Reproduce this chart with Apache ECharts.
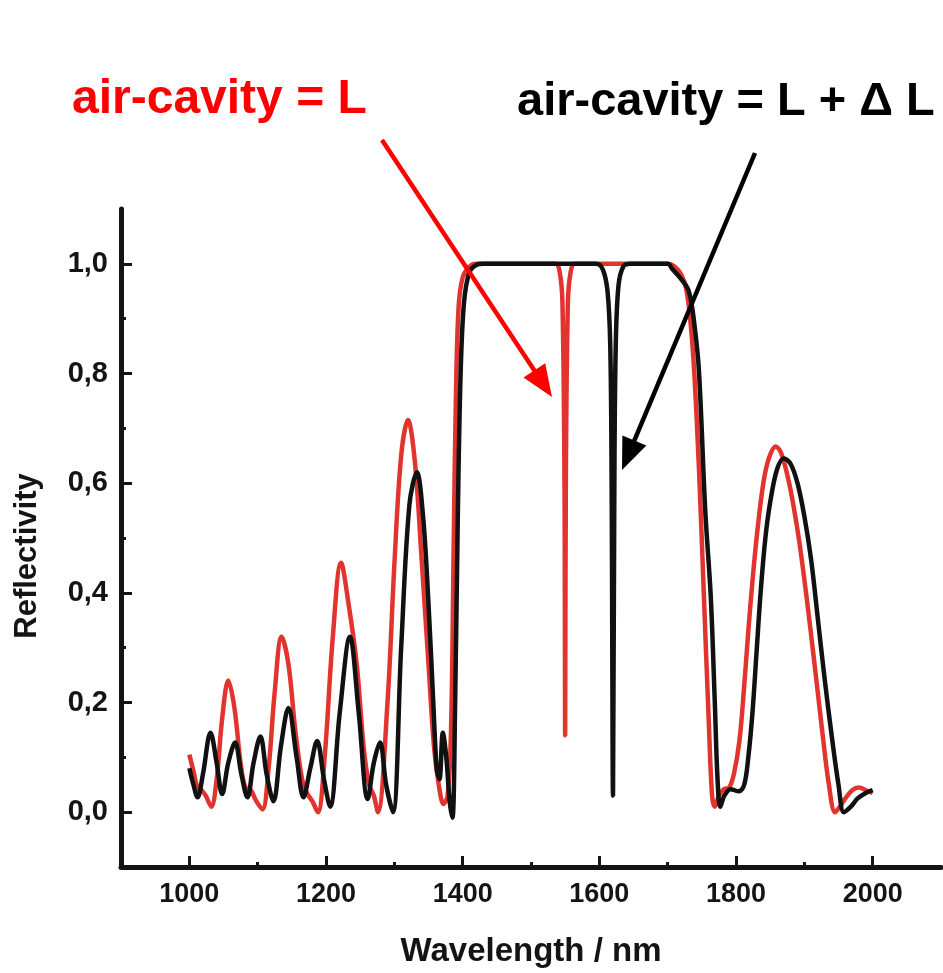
<!DOCTYPE html>
<html><head><meta charset="utf-8">
<script src="https://cdn.jsdelivr.net/npm/echarts@6/dist/echarts.min.js"></script>
<style>html,body{margin:0;padding:0;background:#fff}#c{width:943px;height:973px}</style>
</head><body><div id="c"></div>
<script>
// Reflectivity spectra (wavelength in nm)
const redX = [1000,1006,1012,1018,1024,1032,1040,1048,1057,1066,1075,1082,1090,1098,1107,1116,1125,1135,1145,1155,1165,1172,1180,1188,1198,1210,1222,1233,1245,1255,1263,1270,1276,1290,1300,1310,1320,1330,1340,1350,1358,1365,1372,1378,1383,1387,1390,1394,1400,1410,1420,1480,1536,1542,1546,1549,1550,1551,1554,1558,1564,1600,1650,1700,1710,1720,1727,1733,1739,1746,1753,1760,1765,1769,1775,1782,1790,1797,1805,1812,1818,1824,1831,1840,1848,1858,1866,1876,1884,1893,1903,1914,1926,1936,1945,1952,1960,1970,1980,1990,2000];
const redY = [0.105,0.075,0.045,0.04,0.03,0.01,0.06,0.17,0.24,0.19,0.09,0.045,0.04,0.02,0.005,0.08,0.22,0.32,0.27,0.15,0.06,0.035,0.02,0.0,0.1,0.32,0.455,0.38,0.27,0.12,0.05,0.03,0.0,0.2,0.45,0.65,0.715,0.64,0.46,0.27,0.12,0.05,0.015,0.03,0.15,0.5,0.75,0.92,0.975,0.995,1.0,1.0,1.0,0.985,0.93,0.6,0.14,0.6,0.93,0.985,1.0,1.0,1.0,1.0,0.995,0.98,0.955,0.9,0.8,0.62,0.395,0.17,0.03,0.01,0.03,0.042,0.045,0.07,0.13,0.23,0.33,0.42,0.51,0.6,0.645,0.667,0.655,0.61,0.56,0.49,0.395,0.28,0.15,0.05,0.0,0.01,0.025,0.04,0.045,0.04,0.035];
const blackX = [1000,1006,1012,1020,1031,1040,1048,1057,1067,1076,1085,1094,1104,1113,1123,1134,1145,1157,1167,1177,1187,1197,1206,1220,1235,1248,1261,1270,1279,1288,1298,1310,1322,1333,1342,1350,1357,1362,1366,1371,1376,1381,1385,1389,1393,1397,1402,1410,1420,1430,1500,1595,1605,1612,1616,1618,1620,1622,1624,1628,1635,1645,1700,1707,1718,1731,1740,1746,1755,1763,1769,1773,1777,1783,1792,1804,1812,1818,1824,1830,1836,1843,1850,1860,1870,1880,1890,1900,1910,1920,1930,1940,1950,1958,1968,1978,1990,2000];
const blackY = [0.08,0.05,0.027,0.07,0.145,0.09,0.033,0.09,0.127,0.07,0.027,0.09,0.138,0.07,0.02,0.12,0.19,0.1,0.027,0.08,0.13,0.06,0.01,0.18,0.32,0.18,0.024,0.09,0.127,0.05,0.0,0.3,0.56,0.62,0.54,0.38,0.2,0.08,0.06,0.145,0.1,0.02,-0.01,0.2,0.55,0.8,0.93,0.985,0.998,1.0,1.0,1.0,0.99,0.95,0.85,0.6,0.03,0.6,0.85,0.96,0.995,1.0,1.0,0.99,0.975,0.95,0.88,0.8,0.55,0.395,0.2,0.06,0.01,0.03,0.042,0.038,0.05,0.1,0.18,0.29,0.4,0.5,0.565,0.625,0.645,0.635,0.6,0.54,0.46,0.35,0.24,0.14,0.05,0.0,0.01,0.025,0.035,0.04];
const xMajorTicks = [1000,1200,1400,1600,1800,2000];
const xMinorTicks = [1100,1300,1500,1700,1900];
const yMajorTicks = [0.0,0.2,0.4,0.6,0.8,1.0];
const yMinorTicks = [0.1,0.3,0.5,0.7,0.9];
const labelRed = 'air-cavity = L';
const labelBlack = 'air-cavity = L + \u0394 L';

const chart = echarts.init(document.getElementById('c'), null, {renderer: 'canvas'});
const zip = (xs, ys) => xs.map((x, i) => [x, ys[i]]);
const sans = '"Liberation Sans",Arial,sans-serif';
const AX = '#141414';

function arrow(x1, y1, x2, y2, color) {
  const dx = x2 - x1, dy = y2 - y1, L = Math.hypot(dx, dy);
  const ux = dx / L, uy = dy / L, hl = 32, hw = 13;
  const bx = x2 - ux * hl, by = y2 - uy * hl;
  return [
    {type: 'line', shape: {x1, y1, x2: x2 - ux * (hl - 4), y2: y2 - uy * (hl - 4)}, style: {stroke: color, lineWidth: 4.5}, z: 100},
    {type: 'polygon', shape: {points: [[x2, y2], [bx - uy * hw, by + ux * hw], [bx + uy * hw, by - ux * hw]]}, style: {fill: color}, z: 100}
  ];
}

const option = {
  backgroundColor: '#fff',
  animation: false,
  grid: {left: 121, right: 2, top: 209, bottom: 100, containLabel: false},
  xAxis: [{
    type: 'value', min: 900, max: 2100,
    name: 'Wavelength / nm', nameLocation: 'middle', nameGap: 68,
    nameTextStyle: {fontFamily: sans, fontWeight: 'bold', fontSize: 33, color: AX},
    axisLine: {show: true, onZero: false, lineStyle: {color: AX, width: 5}},
    axisTick: {show: true, inside: true, length: 11, customValues: xMajorTicks, lineStyle: {color: AX, width: 3}},
    axisLabel: {show: true, customValues: xMajorTicks, margin: 14, fontFamily: sans, fontWeight: 'bold', fontSize: 27, color: AX,
      formatter: v => String(v)},
    splitLine: {show: false}
  }, {
    type: 'value', min: 900, max: 2100, position: 'bottom',
    axisLine: {show: false, onZero: false},
    axisTick: {show: true, inside: true, length: 5, customValues: xMinorTicks, lineStyle: {color: AX, width: 3}},
    axisLabel: {show: false}, splitLine: {show: false}
  }],
  yAxis: [{
    type: 'value', min: -0.1, max: 1.1,
    name: 'Reflectivity', nameLocation: 'middle', nameGap: 78,
    nameTextStyle: {fontFamily: sans, fontWeight: 'bold', fontSize: 31, color: AX, padding: [0, 36, 0, 0]},
    axisLine: {show: true, onZero: false, lineStyle: {color: AX, width: 5}},
    axisTick: {show: true, inside: true, length: 11, customValues: yMajorTicks, lineStyle: {color: AX, width: 3}},
    axisLabel: {show: true, customValues: yMajorTicks, margin: 13, fontFamily: sans, fontWeight: 'bold', fontSize: 29, color: AX,
      formatter: v => v.toFixed(1).replace('.', ',')},
    splitLine: {show: false}
  }, {
    type: 'value', min: -0.1, max: 1.1, position: 'left',
    axisLine: {show: false, onZero: false},
    axisTick: {show: true, inside: true, length: 5, customValues: yMinorTicks, lineStyle: {color: AX, width: 3}},
    axisLabel: {show: false}, splitLine: {show: false}
  }],
  series: [{
    name: labelRed, type: 'line', xAxisIndex: 0, yAxisIndex: 0,
    data: zip(redX, redY), showSymbol: false, smooth: 0.35,
    lineStyle: {color: '#e2342f', width: 4.5}, z: 3
  }, {
    name: labelBlack, type: 'line', xAxisIndex: 0, yAxisIndex: 0,
    data: zip(blackX, blackY), showSymbol: false, smooth: 0.35,
    lineStyle: {color: '#111111', width: 4.5}, z: 4
  }],
  graphic: [
    {type: 'text', left: 72, top: 76, style: {text: labelRed, fill: '#ff0000', fontFamily: sans, fontWeight: 'bold', fontSize: 48}, z: 100},
    {type: 'text', left: 517, top: 79, style: {text: labelBlack, fill: '#000000', fontFamily: sans, fontWeight: 'bold', fontSize: 47}, z: 100},
    ...arrow(382, 140, 552, 397, '#ff0000'),
    ...arrow(755, 153, 622, 470, '#000000')
  ]
};
chart.setOption(option);
</script></body></html>
